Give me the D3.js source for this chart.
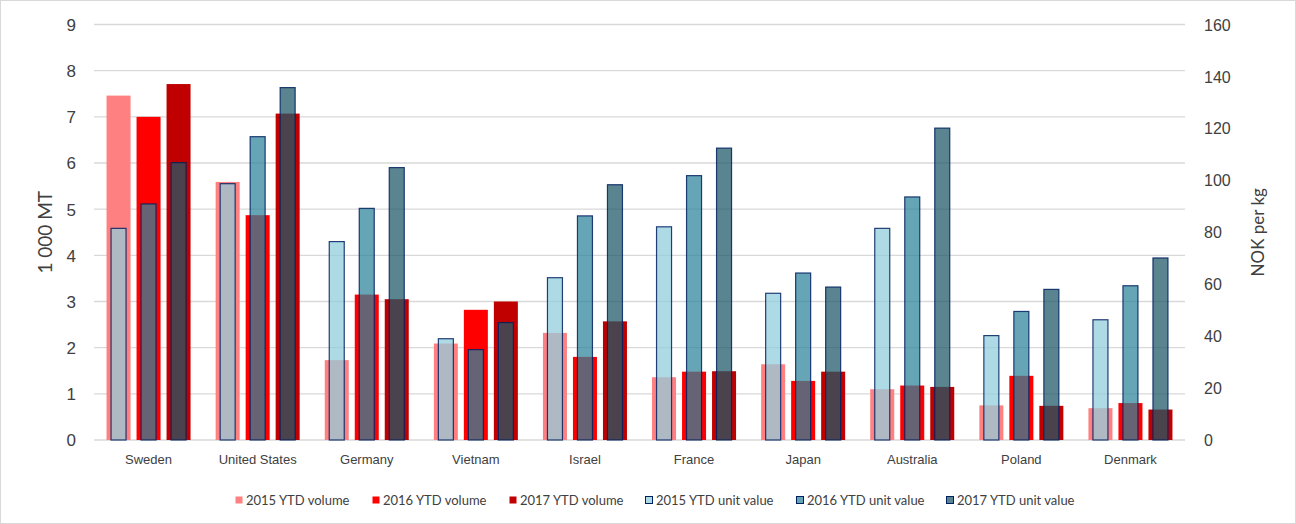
<!DOCTYPE html>
<html><head><meta charset="utf-8">
<script src="https://cdn.jsdelivr.net/npm/d3@7"></script>
<style>body{margin:0;background:#fff;} svg{display:block;font-family:Lato,"Open Sans",sans-serif;}</style>
</head><body><svg id="c" width="1296" height="524"></svg>
<script>
const categories = ["Sweden","United States","Germany","Vietnam","Israel","France","Japan","Australia","Poland","Denmark"];
const volume2015 = [7.46,5.59,1.73,2.09,2.32,1.36,1.64,1.10,0.75,0.69];
const volume2016 = [7.00,4.87,3.15,2.82,1.80,1.48,1.28,1.18,1.39,0.80];
const volume2017 = [7.71,7.07,3.05,3.00,2.57,1.49,1.48,1.15,0.74,0.66];
const unit2015 = [81.5,98.7,76.4,39.0,62.5,82.1,56.5,81.5,40.2,46.3];
const unit2016 = [90.9,116.8,89.2,34.8,86.3,101.8,64.3,93.6,49.5,59.4];
const unit2017 = [106.8,135.7,104.9,45.2,98.3,112.4,58.9,120.1,58.0,70.1];
const leftTicks = [0,1,2,3,4,5,6,7,8,9];
const rightTicks = [0,20,40,60,80,100,120,140,160];
const volSeries = [
  {name:"2015 YTD volume", values:volume2015, color:"#ff8080"},
  {name:"2016 YTD volume", values:volume2016, color:"#ff0000"},
  {name:"2017 YTD volume", values:volume2017, color:"#c00000"}];
const unitSeries = [
  {name:"2015 YTD unit value", values:unit2015, color:"#92cddc"},
  {name:"2016 YTD unit value", values:unit2016, color:"#31859c"},
  {name:"2017 YTD unit value", values:unit2017, color:"#215968"}];

const svg = d3.select("#c");
svg.append("rect").attr("x",0.5).attr("y",0.5).attr("width",1295).attr("height",523)
  .attr("fill","#fff").attr("stroke","#d9d9d9");

const L = 94, R = 1185, T = 24.5, B = 440;
const x = d3.scaleBand().domain(categories).range([L,R]).paddingInner(0.23).paddingOuter(0.115);
const xs = d3.scaleBand().domain([0,1,2]).range([0,x.bandwidth()]).paddingInner(0.2);
const yL = d3.scaleLinear().domain([0,9]).range([B,T]);
const yR = d3.scaleLinear().domain([0,160]).range([B,T]);

// grid
svg.append("g").selectAll("line").data(leftTicks).join("line")
  .attr("x1",L).attr("x2",R).attr("y1",d=>yL(d)).attr("y2",d=>yL(d))
  .attr("stroke","#d9d9d9").attr("stroke-width",1.3);

// axes
const axL = d3.axisLeft(yL).tickValues(leftTicks).tickSize(0).tickPadding(0);
const gL = svg.append("g").attr("transform",`translate(76,0)`).call(axL);
gL.select(".domain").remove();
gL.selectAll("text").attr("font-size",17).attr("fill","#404040").attr("dy","0.35em");

const axR = d3.axisRight(yR).tickValues(rightTicks).tickSize(0).tickPadding(0);
const gR = svg.append("g").attr("transform",`translate(1204,0)`).call(axR);
gR.select(".domain").remove();
gR.selectAll("text").attr("font-size",16).attr("fill","#404040").attr("dy","0.35em");

svg.append("text").attr("transform",`translate(52,${(T+B)/2}) rotate(-90)`)
  .attr("text-anchor","middle").attr("font-size",19).attr("fill","#404040").text("1 000 MT");
svg.append("text").attr("transform",`translate(1264,${(T+B)/2}) rotate(-90)`)
  .attr("text-anchor","middle").attr("font-size",17).attr("fill","#404040").text("NOK per kg");

// volume bars
volSeries.forEach((s,i)=>{
  svg.append("g").selectAll("rect").data(s.values).join("rect")
    .attr("x",(d,j)=>x(categories[j])+xs(i)).attr("width",xs.bandwidth())
    .attr("y",d=>yL(d)).attr("height",d=>B-yL(d)).attr("fill",s.color);
});
// unit bars
const uw = 15;
unitSeries.forEach((s,i)=>{
  svg.append("g").selectAll("rect").data(s.values).join("rect")
    .attr("x",(d,j)=>x(categories[j])+xs(i)+xs.bandwidth()/2-uw/2).attr("width",uw)
    .attr("y",d=>yR(d)).attr("height",d=>B-yR(d))
    .attr("fill",s.color).attr("fill-opacity",0.74)
    .attr("stroke","#002060").attr("stroke-width",1.2).attr("stroke-opacity",0.85);
});

// category labels
const axB = d3.axisBottom(x).tickSize(0).tickPadding(0);
const gB = svg.append("g").attr("transform",`translate(0,455)`).call(axB);
gB.select(".domain").remove();
gB.selectAll("text").attr("font-size",13).attr("fill","#404040").attr("dy","0.71em");

// legend
const legX = [235,372,509,645,796,946];
const all = volSeries.concat(unitSeries);
const lg = svg.append("g");
all.forEach((s,i)=>{
  const g = lg.append("g").attr("transform",`translate(${legX[i]},500)`);
  g.append("rect").attr("x",0.5).attr("y",-3.5).attr("width",7).attr("height",7)
    .attr("fill",s.color).attr("fill-opacity",i>2?0.74:1)
    .attr("stroke",i>2?"#002060":"none").attr("stroke-width",1);
  g.append("text").attr("x",11).attr("y",0).attr("dy","0.35em").attr("font-size",13)
    .attr("fill","#404040").text(s.name);
});
</script></body></html>
